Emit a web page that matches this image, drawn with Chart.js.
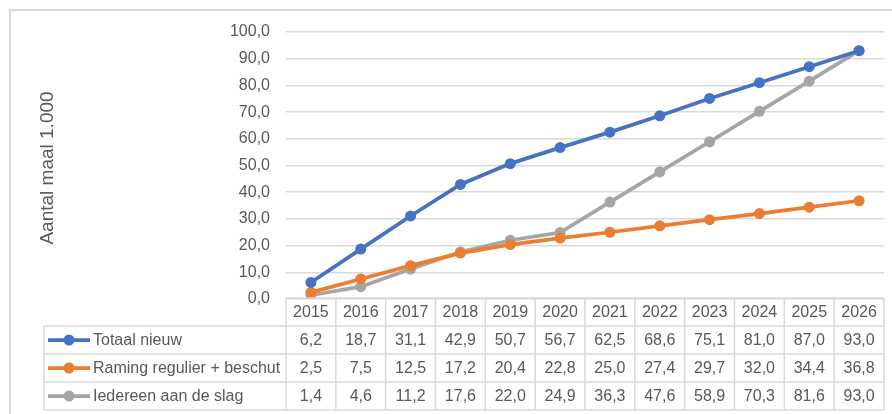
<!DOCTYPE html>
<html>
<head>
<meta charset="utf-8">
<script src="https://cdn.jsdelivr.net/npm/chart.js@4"></script>
<style>
  html, body { margin: 0; padding: 0; background: #fff; }
  #wrap { width: 892px; height: 414px; }
</style>
</head>
<body>
<div id="wrap"><canvas id="myChart" width="892" height="414"></canvas></div>
<script>
// Years and series (aantal maal 1.000)
const years = ['2015','2016','2017','2018','2019','2020','2021','2022','2023','2024','2025','2026'];
const totaalNieuw = [6.2, 18.7, 31.1, 42.9, 50.7, 56.7, 62.5, 68.6, 75.1, 81.0, 87.0, 93.0];
const ramingRegulier = [2.5, 7.5, 12.5, 17.2, 20.4, 22.8, 25.0, 27.4, 29.7, 32.0, 34.4, 36.8];
const iedereenAanDeSlag = [1.4, 4.6, 11.2, 17.6, 22.0, 24.9, 36.3, 47.6, 58.9, 70.3, 81.6, 93.0];
const seriesNames = ['Totaal nieuw', 'Raming regulier + beschut', 'Iedereen aan de slag'];
const yTitle = 'Aantal maal 1.000';

const textColor = '#595959';
const lineGray = '#d9d9d9';
const fontFam = '"Liberation Sans", Arial, sans-serif';

function fmt(v) {
    return v.toFixed(1).replace('.', ',');
}

// frame, axis title and data table underneath the plot
const tablePlugin = {
    id: 'dataTable',
    afterDraw(chart) {
        const ctx = chart.ctx;
        const x = chart.scales.x;
        const area = chart.chartArea;
        const colW = (area.right - area.left) / years.length;
        const tableLeft = 44;
        const top = 298;
        const rowH = 28;

        ctx.save();
        // outer frame
        ctx.strokeStyle = lineGray;
        ctx.lineWidth = 2;
        ctx.beginPath();
        ctx.moveTo(10, 414);
        ctx.lineTo(10, 10);
        ctx.lineTo(892, 10);
        ctx.stroke();

        // y title
        ctx.fillStyle = textColor;
        ctx.font = '19px ' + fontFam;
        ctx.textAlign = 'center';
        ctx.textBaseline = 'middle';
        ctx.translate(48, 168);
        ctx.rotate(-Math.PI / 2);
        ctx.fillText(yTitle, 0, 0);
        ctx.restore();

        ctx.save();
        ctx.strokeStyle = lineGray;
        ctx.lineWidth = 1.5;
        ctx.beginPath();
        // horizontal lines
        ctx.moveTo(area.left, top);
        ctx.lineTo(area.right, top);
        for (let r = 1; r <= 4; r++) {
            ctx.moveTo(tableLeft, top + r * rowH);
            ctx.lineTo(area.right, top + r * rowH);
        }
        // vertical lines
        ctx.moveTo(tableLeft, top + rowH);
        ctx.lineTo(tableLeft, top + 4 * rowH);
        for (let c = 0; c <= years.length; c++) {
            let cx = area.left + c * colW;
            ctx.moveTo(cx, top);
            ctx.lineTo(cx, top + 4 * rowH);
        }
        ctx.stroke();

        ctx.fillStyle = textColor;
        ctx.font = '16px ' + fontFam;
        ctx.textAlign = 'center';
        ctx.textBaseline = 'middle';
        years.forEach((yr, i) => {
            ctx.fillText(yr, x.getPixelForValue(i), top + rowH / 2 + 1);
        });

        chart.data.datasets.forEach((ds, r) => {
            let cy = top + (r + 1) * rowH + rowH / 2 + 1;
            ds.data.forEach((v, i) => {
                ctx.textAlign = 'center';
                ctx.fillText(fmt(v), x.getPixelForValue(i), cy);
            });
            // legend key
            ctx.strokeStyle = ds.borderColor;
            ctx.lineWidth = 3.75;
            ctx.beginPath();
            ctx.moveTo(48, cy - 1);
            ctx.lineTo(90, cy - 1);
            ctx.stroke();
            ctx.fillStyle = ds.borderColor;
            ctx.beginPath();
            ctx.arc(69, cy - 1, 5.5, 0, Math.PI * 2);
            ctx.fill();
            ctx.fillStyle = textColor;
            ctx.textAlign = 'left';
            ctx.fillText(ds.label, 93, cy);
        });
        ctx.restore();
    }
};

const data = {
    labels: years,
    datasets: [
        {
            label: seriesNames[0],
            data: totaalNieuw,
            borderColor: '#4472C4',
            backgroundColor: '#4472C4',
        },
        {
            label: seriesNames[1],
            data: ramingRegulier,
            borderColor: '#ED7D31',
            backgroundColor: '#ED7D31',
        },
        {
            label: seriesNames[2],
            data: iedereenAanDeSlag,
            borderColor: '#A5A5A5',
            backgroundColor: '#A5A5A5',
        },
    ]
};

const config = {
    type: 'line',
    data: data,
    options: {
        responsive: false,
        animation: false,
        layout: { padding: { left: 0, top: 32, right: 8, bottom: 115 } },
        elements: {
            line: { borderWidth: 3.75, tension: 0 },
            point: { radius: 5.5, hoverRadius: 5.5, borderWidth: 0 }
        },
        plugins: {
            legend: { display: false },
            tooltip: { enabled: false }
        },
        scales: {
            x: {
                display: false,
                offset: true
            },
            y: {
                min: 0,
                max: 100,
                afterFit: (s) => { s.width = 286; },
                border: { display: false },
                grid: { color: lineGray, lineWidth: 1.5, drawTicks: false },
                ticks: {
                    stepSize: 10,
                    padding: 16,
                    color: textColor,
                    font: { family: fontFam, size: 16 },
                    callback: (v) => fmt(v)
                }
            }
        }
    },
    plugins: [tablePlugin]
};

const myChart = new Chart(document.getElementById('myChart'), config);
</script>
</body>
</html>
